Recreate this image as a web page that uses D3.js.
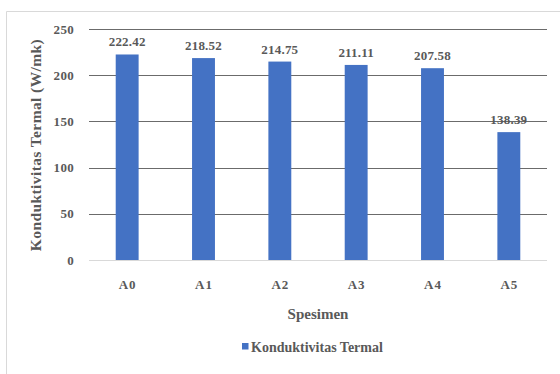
<!DOCTYPE html>
<html>
<head>
<meta charset="utf-8">
<script src="https://cdn.jsdelivr.net/npm/d3@7"></script>
<style>
  html, body { margin: 0; padding: 0; background: #fff; }
  svg { display: block; }
  svg text { font-family: "Liberation Serif", "Times New Roman", serif; font-weight: bold; fill: #595959; }
</style>
</head>
<body>
<svg id="chart" width="560" height="374"></svg>
<script>
// Thermal conductivity per specimen
const categories = ["A0", "A1", "A2", "A3", "A4", "A5"];
const values = [222.42, 218.52, 214.75, 211.11, 207.58, 138.39];
const yTicks = [0, 50, 100, 150, 200, 250];
const seriesName = "Konduktivitas Termal";
const xTitle = "Spesimen";
const yTitle = "Konduktivitas Termal (W/mk)";

const svg = d3.select("#chart");
const W = 560, H = 374;
const plot = { left: 89, right: 547, top: 29, bottom: 260 };
const serif = "'Liberation Serif', 'Times New Roman', serif";

// chart frame (top and left edges visible)
svg.append("line").attr("x1", 6.5).attr("x2", W).attr("y1", 11.5).attr("y2", 11.5)
  .attr("stroke", "#d9d9d9").attr("stroke-width", 1);
svg.append("line").attr("x1", 6.5).attr("x2", 6.5).attr("y1", 11.5).attr("y2", H)
  .attr("stroke", "#d9d9d9").attr("stroke-width", 1);

const x = d3.scaleBand().domain(categories).range([plot.left, plot.right]).paddingInner(0.7).paddingOuter(0.35);
const y = d3.scaleLinear().domain([0, 250]).range([plot.bottom, plot.top]);

// gridlines
svg.append("g").selectAll("line").data(yTicks.filter(t => t > 0)).join("line")
  .attr("x1", plot.left).attr("x2", plot.right)
  .attr("y1", d => Math.round(y(d)) + 0.5).attr("y2", d => Math.round(y(d)) + 0.5)
  .attr("stroke", "#6b6b6b").attr("stroke-width", 1.2);

// baseline
svg.append("line").attr("x1", plot.left).attr("x2", plot.right)
  .attr("y1", Math.round(y(0)) + 0.5).attr("y2", Math.round(y(0)) + 0.5)
  .attr("stroke", "#d9d9d9").attr("stroke-width", 1);

// y axis labels
const yAxis = d3.axisLeft(y).tickValues(yTicks).tickSize(0).tickPadding(15);
const gy = svg.append("g").attr("transform", `translate(${plot.left},0)`).call(yAxis);
gy.attr("font-family", serif);
gy.select(".domain").remove();
gy.selectAll("text").attr("font-size", 13).attr("fill", "#595959").attr("letter-spacing", 0.3);

// x axis labels
const xAxis = d3.axisBottom(x).tickSize(0).tickPadding(20);
const gx = svg.append("g").attr("transform", `translate(0,${plot.bottom})`).call(xAxis);
gx.attr("font-family", serif);
gx.select(".domain").remove();
gx.selectAll("text").attr("font-size", 13).attr("fill", "#595959").attr("letter-spacing", 1)
  .attr("dx", 0.5);

// bars
svg.append("g").selectAll("rect").data(values).join("rect")
  .attr("x", (d, i) => x(categories[i]))
  .attr("width", x.bandwidth())
  .attr("y", d => y(d))
  .attr("height", d => y(0) - y(d))
  .attr("fill", "#4472c4");

// value labels
svg.append("g").selectAll("text").data(values).join("text")
  .attr("x", (d, i) => x(categories[i]) + x.bandwidth() / 2)
  .attr("y", d => y(d) - 8)
  .attr("text-anchor", "middle")
  .attr("font-size", 13)
  .attr("letter-spacing", 0.2)
  .text(d => d.toFixed(2));

// axis titles
svg.append("text").attr("x", 318).attr("y", 319).attr("text-anchor", "middle")
  .attr("font-size", 15).text(xTitle);
svg.append("text").attr("transform", `translate(41,145) rotate(-90)`)
  .attr("text-anchor", "middle").attr("font-size", 15.5).attr("letter-spacing", 0.4).text(yTitle);

// legend
svg.append("rect").attr("x", 242).attr("y", 343).attr("width", 6.5).attr("height", 6.5).attr("fill", "#4472c4");
svg.append("text").attr("x", 251).attr("y", 351.5).attr("font-size", 14).text(seriesName);
</script>
</body>
</html>
